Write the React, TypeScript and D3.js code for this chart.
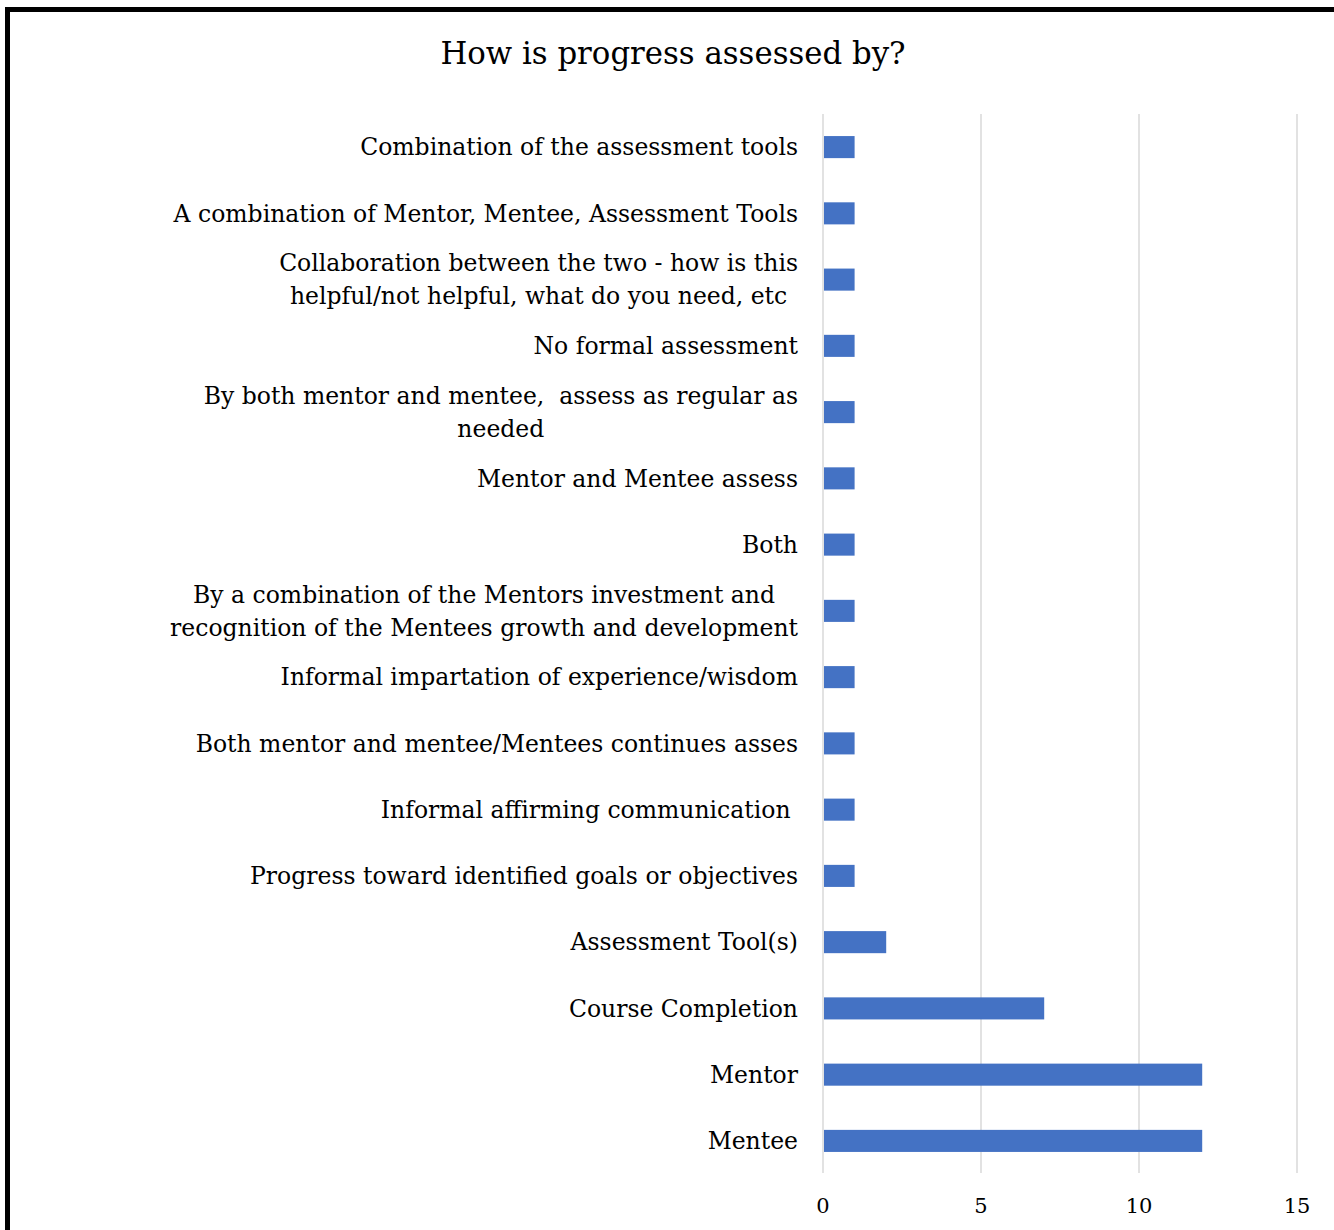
import React, { useEffect, useRef } from "react";
import * as d3 from "d3";

const title = "How is progress assessed by?";
const categories = [
  "Combination of the assessment tools",
  "A combination of Mentor, Mentee, Assessment Tools",
  "Collaboration between the two - how is this\nhelpful/not helpful, what do you need, etc",
  "No formal assessment",
  "By both mentor and mentee,  assess as regular as\nneeded",
  "Mentor and Mentee assess",
  "Both",
  "By a combination of the Mentors investment and\nrecognition of the Mentees growth and development",
  "Informal impartation of experience/wisdom",
  "Both mentor and mentee/Mentees continues asses",
  "Informal affirming communication ",
  "Progress toward identified goals or objectives",
  "Assessment Tool(s)",
  "Course Completion",
  "Mentor",
  "Mentee",
];
const values = [1, 1, 1, 1, 1, 1, 1, 1, 1, 1, 1, 1, 2, 7, 12, 12];
const xTicks = [0, 5, 10, 15];

const W = 1334;
const H = 1230;
const FONT = "'DejaVu Serif', serif";

export default function App() {
  const ref = useRef<SVGSVGElement>(null);

  useEffect(() => {
    const svg = d3.select(ref.current);
    svg.selectAll("*").remove();

    const x = d3.scaleLinear().domain([0, 15]).range([823, 1297]);
    const y = d3
      .scaleBand<string>()
      .domain(categories)
      .range([114, 1174])
      .paddingInner(0.667)
      .paddingOuter(0.333);

    svg.append("rect").attr("x", 0).attr("y", 0).attr("width", W).attr("height", H).attr("fill", "#fff");

    // border
    svg
      .append("rect")
      .attr("x", 7.5)
      .attr("y", 9.5)
      .attr("width", W + 20)
      .attr("height", H + 20)
      .attr("fill", "none")
      .attr("stroke", "#000")
      .attr("stroke-width", 5);

    // title
    svg
      .append("text")
      .attr("x", 673)
      .attr("y", 64)
      .attr("text-anchor", "middle")
      .attr("font-family", FONT)
      .attr("font-size", 30.8)
      .attr("fill", "#000")
      .text(title);

    // gridlines
    svg
      .append("g")
      .selectAll("line")
      .data(xTicks)
      .join("line")
      .attr("x1", (d) => x(d))
      .attr("x2", (d) => x(d))
      .attr("y1", 114)
      .attr("y2", 1173)
      .attr("stroke", "#d9d9d9")
      .attr("stroke-width", 1.5);

    // tick labels
    svg
      .append("g")
      .selectAll("text")
      .data(xTicks)
      .join("text")
      .attr("x", (d) => x(d))
      .attr("y", 1213)
      .attr("text-anchor", "middle")
      .attr("font-family", FONT)
      .attr("font-size", 21)
      .attr("fill", "#000")
      .text((d) => String(d));

    // bars
    svg
      .append("g")
      .selectAll("rect")
      .data(categories)
      .join("rect")
      .attr("x", x(0) + 1)
      .attr("y", (d) => y(d)!)
      .attr("width", (d, i) => x(values[i]) - x(0) - 1)
      .attr("height", y.bandwidth())
      .attr("fill", "#4472c4");

    // category labels
    const labelRight = 798;
    const lineH = 33;
    const lg = svg.append("g");
    categories.forEach((cat) => {
      const lines = cat.split("\n");
      const cy = y(cat)! + y.bandwidth() / 2;
      const texts = lines.map((ln, j) =>
        lg
          .append("text")
          .attr("font-family", FONT)
          .attr("font-size", 23.5)
          .attr("fill", "#000")
          .style("white-space", "pre")
          .attr("y", cy + (j - (lines.length - 1) / 2) * lineH)
          .attr("dy", "0.35em")
          .text(ln)
      );
      if (lines.length === 1) {
        texts[0].attr("x", labelRight).attr("text-anchor", "end");
      } else {
        const widths = texts.map((t) => (t.node() as SVGTextElement).getComputedTextLength());
        const maxW = Math.max(...widths);
        const cx = labelRight - maxW / 2;
        texts.forEach((t) => t.attr("x", cx).attr("text-anchor", "middle"));
      }
    });
  }, []);

  return (
    <svg
      ref={ref}
      width={W}
      height={H}
      style={{ position: "absolute", left: 0, top: 0, display: "block" }}
    />
  );
}
